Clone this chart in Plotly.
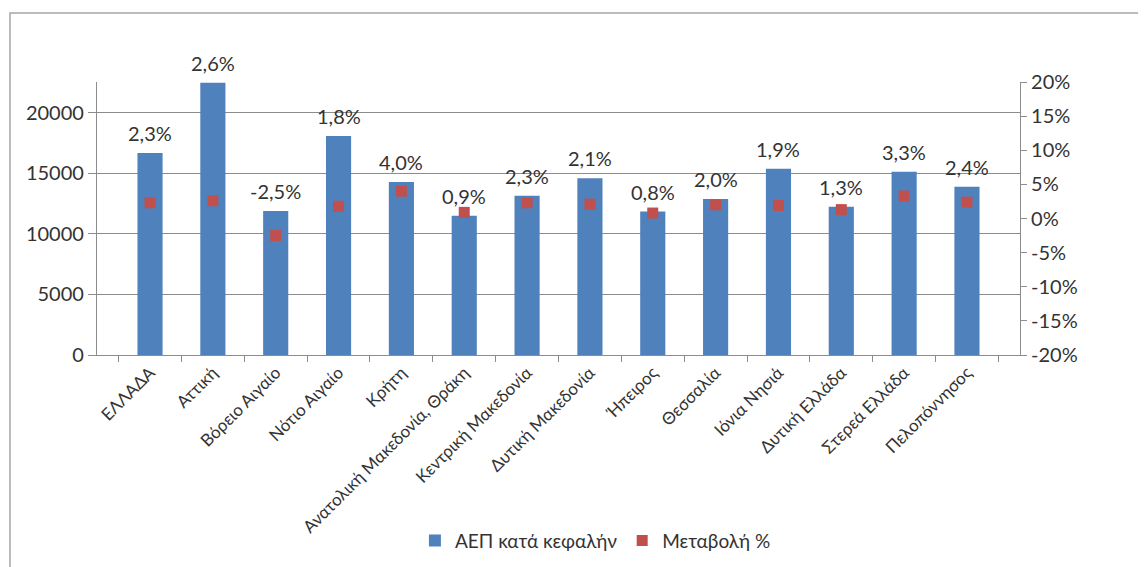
import plotly.graph_objects as go

categories = ["ΕΛΛΑΔΑ", "Αττική", "Βόρειο Αιγαίο", "Νότιο Αιγαίο", "Κρήτη",
              "Ανατολική Μακεδονία, Θράκη", "Κεντρική Μακεδονία", "Δυτική Μακεδονία",
              "Ήπειρος", "Θεσσαλία", "Ιόνια Νησιά", "Δυτική Ελλάδα", "Στερεά Ελλάδα",
              "Πελοπόννησος"]
gdp_per_capita = [16700, 22500, 11900, 18100, 14300, 11500, 13150, 14600,
                  11850, 12900, 15400, 12250, 15150, 13900]
change_pct = [2.3, 2.6, -2.5, 1.8, 4.0, 0.9, 2.3, 2.1, 0.8, 2.0, 1.9, 1.3, 3.3, 2.4]
left_ticks = [0, 5000, 10000, 15000, 20000]
right_ticks = [-20, -15, -10, -5, 0, 5, 10, 15, 20]

FONT = "Lato"
TXT = "#333333"
GRID = "#8c8c8c"

fig = go.Figure()
fig.add_trace(go.Bar(
    x=categories, y=gdp_per_capita, name="ΑΕΠ κατά κεφαλήν",
    marker=dict(color="#4F81BD", line=dict(width=0)), width=0.4, yaxis="y",
))
fig.add_trace(go.Scatter(
    x=categories, y=change_pct, name="Μεταβολή %", mode="markers",
    marker=dict(symbol="square", size=11, color="#C0504D"), yaxis="y2",
))

labels = [f"{v:.1f}".replace(".", ",") + "%" for v in change_pct]
for c, g, t in zip(categories, gdp_per_capita, labels):
    fig.add_annotation(x=c, y=g, xref="x", yref="y", text=t, showarrow=False,
                       yanchor="bottom", yshift=6,
                       font=dict(family=FONT, size=20, color=TXT))

fig.add_shape(type="rect", xref="paper", yref="paper",
              x0=-0.0943, x1=1.15, y0=-0.85, y1=1.2527,
              line=dict(color="#a6a6a6", width=1.5), fillcolor="rgba(0,0,0,0)", layer="below")

fig.update_layout(
    width=1146, height=567,
    margin=dict(l=89, r=134, t=74, b=220, autoexpand=False),
    paper_bgcolor="white", plot_bgcolor="white",
    font=dict(family=FONT, color=TXT),
    bargap=0.6,
    showlegend=True,
    legend=dict(orientation="h", x=0.54, y=-0.68, xanchor="center", yanchor="middle",
                font=dict(family=FONT, size=19, color=TXT), itemwidth=30,
                bgcolor="rgba(0,0,0,0)"),
    xaxis=dict(
        type="category", tickangle=-45, tickfont=dict(family=FONT, size=17, color=TXT),
        showline=True, linecolor=GRID, linewidth=1.2, automargin=False,
        ticks="outside", tickson="boundaries", ticklen=6, tickcolor=GRID,
        showgrid=False,
    ),
    yaxis=dict(
        range=[0, 22560], tickvals=left_ticks, ticktext=[str(v) for v in left_ticks],
        tickfont=dict(family=FONT, size=20, color=TXT), automargin=False,
        showline=True, linecolor=GRID, linewidth=1.2,
        ticks="outside", ticklen=8, tickcolor=GRID,
        showgrid=True, gridcolor=GRID, gridwidth=1.2, zeroline=False,
    ),
    yaxis2=dict(
        range=[-20, 20], tickvals=right_ticks, ticktext=[f"{v}%" for v in right_ticks],
        overlaying="y", side="right", automargin=False,
        tickfont=dict(family=FONT, size=20, color=TXT),
        showline=True, linecolor=GRID, linewidth=1.2,
        ticks="outside", ticklen=6, tickcolor=GRID,
        showgrid=False, zeroline=False,
    ),
)

fig.write_html("out.html")
